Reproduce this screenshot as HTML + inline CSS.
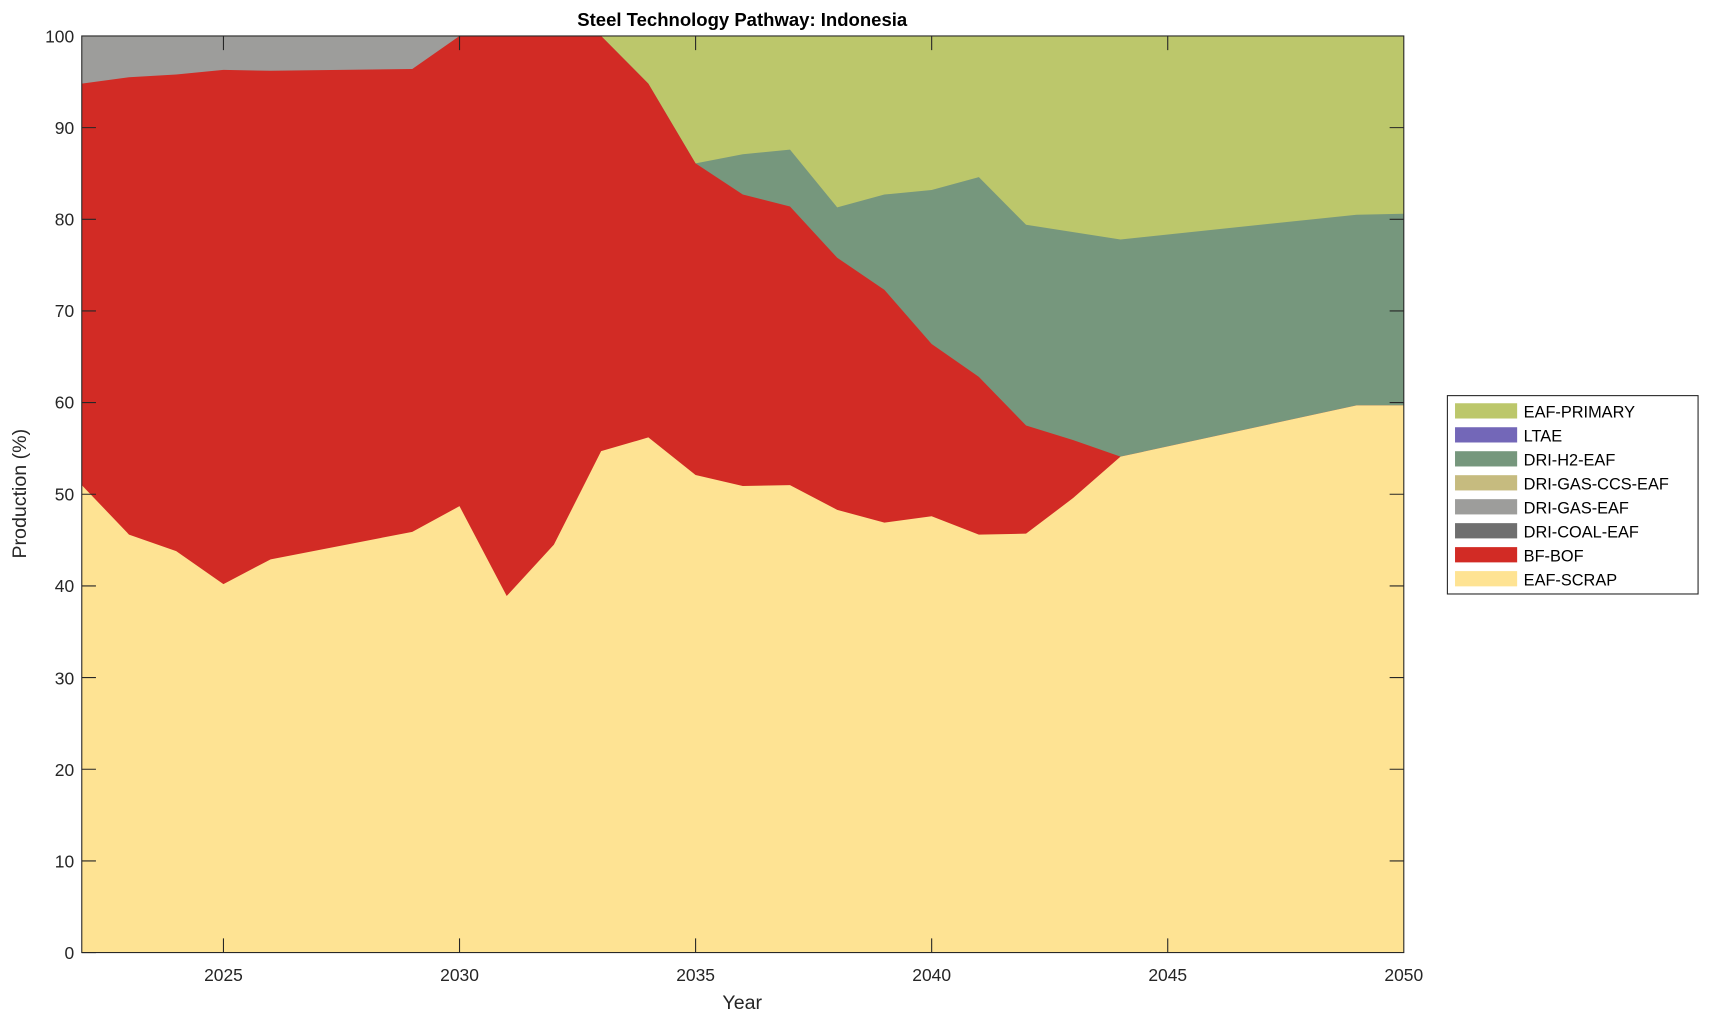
<!DOCTYPE html>
<html><head><meta charset="utf-8"><style>html,body{margin:0;padding:0;background:#fff}svg{display:block}</style></head>
<body>
<svg width="1709" height="1021" viewBox="0 0 1568 936.8" xmlns="http://www.w3.org/2000/svg" font-family="Liberation Sans, Arial, sans-serif">
<rect x="0" y="0" width="1568" height="936.8" fill="#fff"/>
<rect x="75" y="33" width="1213" height="841" fill="#bcc76b"/>
<g transform="translate(75,874) scale(43.321,-8.41)">
<polygon fill="#76977d" points="0,0 0,100 11,100 12,94.8 13,86.1 14,87.1 15,87.6 16,81.3 17,82.7 18,83.2 19,84.6 20,79.4 22,77.8 27,80.5 28,80.6 28,0"/>
<polygon fill="#9d9d9b" points="0,0 0,100 8,100 8,0"/>
<polygon fill="#d22b25" points="0,0 0,94.8 1,95.5 2,95.8 3,96.3 4,96.2 7,96.4 8,100 11,100 12,94.8 13,86.1 14,82.7 15,81.4 16,75.8 17,72.3 18,66.4 19,62.8 20,57.5 21,55.9 22,54.1 27,59.7 28,59.7 28,0"/>
<polygon fill="#fee393" points="0,0 0,51 1,45.6 2,43.8 3,40.2 4,42.9 7,45.9 8,48.7 9,38.9 10,44.5 11,54.7 12,56.2 13,52.1 14,50.9 15,51 16,48.3 17,46.9 18,47.6 19,45.6 20,45.7 21,49.6 22,54.1 27,59.7 28,59.7 28,0"/>
</g>
<rect x="75" y="33" width="1213" height="841" fill="none" stroke="#262626" stroke-width="1"/>
<g stroke="#262626" stroke-width="1">
<path d="M75,874h13M75,789.9h13M75,705.8h13M75,621.7h13M75,537.6h13M75,453.5h13M75,369.4h13M75,285.3h13M75,201.2h13M75,117.1h13M1288,789.9h-13M1288,705.8h-13M1288,621.7h-13M1288,537.6h-13M1288,453.5h-13M1288,369.4h-13M1288,285.3h-13M1288,201.2h-13M1288,117.1h-13"/>
<path d="M205,874v-13M421.6,874v-13M638.2,874v-13M854.8,874v-13M1071.4,874v-13M205,33v13M421.6,33v13M638.2,33v13M854.8,33v13M1071.4,33v13"/>
</g>
<g font-size="16" fill="#262626" text-anchor="end">
<text x="68" y="880">0</text><text x="68" y="796">10</text><text x="68" y="712">20</text><text x="68" y="628">30</text><text x="68" y="543">40</text><text x="68" y="459">50</text><text x="68" y="375">60</text><text x="68" y="291">70</text><text x="68" y="207">80</text><text x="68" y="123">90</text><text x="68" y="39">100</text>
</g>
<g font-size="16" fill="#262626" text-anchor="middle">
<text x="205" y="900">2025</text><text x="421.6" y="900">2030</text><text x="638.2" y="900">2035</text><text x="854.8" y="900">2040</text><text x="1071.4" y="900">2045</text><text x="1288" y="900">2050</text>
<text x="681" y="926" font-size="18">Year</text>
<text transform="translate(24,453) rotate(-90)" font-size="18">Production (%)</text>
<text x="681" y="24" font-size="17" font-weight="bold" fill="#000">Steel Technology Pathway: Indonesia</text>
</g>
<rect x="1328" y="363" width="230" height="182" fill="#fff" stroke="#262626" stroke-width="1"/>
<g font-size="15" fill="#000">
<rect x="1335" y="370" width="57" height="14" fill="#bcc76b"/><text x="1398" y="383">EAF-PRIMARY</text>
<rect x="1335" y="392" width="57" height="14" fill="#7367b8"/><text x="1398" y="405">LTAE</text>
<rect x="1335" y="414" width="57" height="14" fill="#76977d"/><text x="1398" y="427">DRI-H2-EAF</text>
<rect x="1335" y="436" width="57" height="14" fill="#c6bb7f"/><text x="1398" y="449">DRI-GAS-CCS-EAF</text>
<rect x="1335" y="458" width="57" height="14" fill="#9d9d9b"/><text x="1398" y="471">DRI-GAS-EAF</text>
<rect x="1335" y="480" width="57" height="14" fill="#6f6f6f"/><text x="1398" y="493">DRI-COAL-EAF</text>
<rect x="1335" y="502" width="57" height="14" fill="#d22b25"/><text x="1398" y="515">BF-BOF</text>
<rect x="1335" y="524" width="57" height="14" fill="#fee393"/><text x="1398" y="537">EAF-SCRAP</text>
</g>
</svg>
</body></html>
